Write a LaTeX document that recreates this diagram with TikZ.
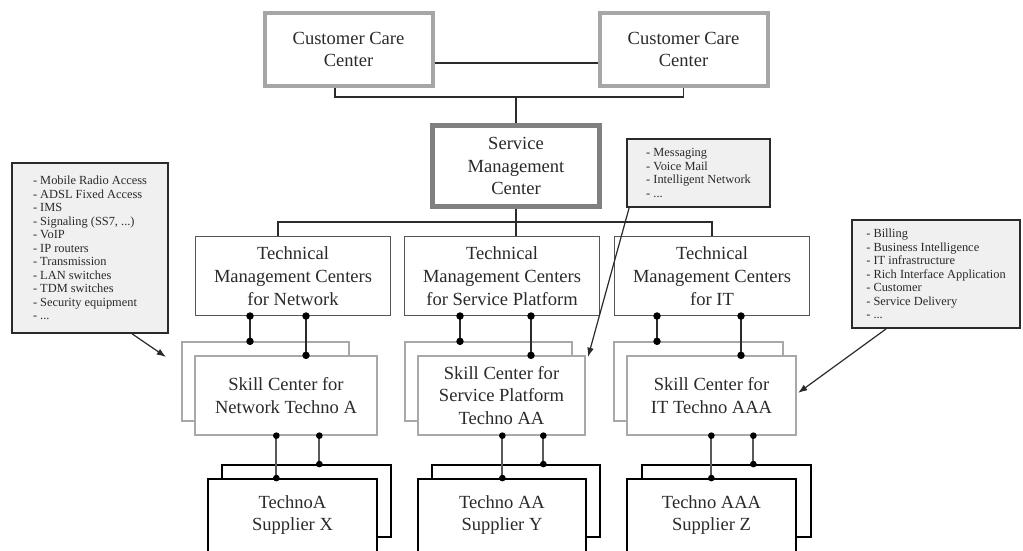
\documentclass[tikz,border=0pt]{standalone}
\usepackage{fontspec}
\setmainfont{Liberation Serif}
\usetikzlibrary{arrows.meta,calc}

\definecolor{ink}{HTML}{2A2A2A}
\definecolor{careline}{HTML}{A6A6A6}
\definecolor{smline}{HTML}{808080}
\definecolor{tmline}{HTML}{555555}
\definecolor{skline}{HTML}{A8A8A8}
\definecolor{notefill}{HTML}{F0F0F0}
\definecolor{busline}{HTML}{2B2B2B}
\definecolor{subline}{HTML}{595959}

\newcommand\mainfs{\fontsize{13.9pt}{17pt}\selectfont}
\newcommand\notefs{\fontsize{9.3pt}{10.1pt}\selectfont}

\begin{document}
\begin{tikzpicture}[x=0.75pt,y=-0.75pt,
  every node/.style={text=ink},
  boxbase/.style={fill=white, align=center, font=\mainfs, inner sep=0pt},
  carebox/.style={boxbase, draw=careline, line width=3pt,
    minimum width=126pt, minimum height=54.75pt},
  smbox/.style={boxbase, draw=smline, line width=3.75pt,
    minimum width=125.25pt, minimum height=60.75pt},
  tmbox/.style={boxbase, draw=tmline, line width=1pt,
    minimum width=146pt, minimum height=59pt},
  skillback/.style={boxbase, draw=skline, line width=1pt, minimum height=59.25pt},
  skillfront/.style={boxbase, draw=skline, line width=1pt, minimum height=59.25pt},
  supback/.style={boxbase, draw=black, line width=1.4pt, minimum height=54pt},
  supfront/.style={boxbase, draw=black, line width=1.4pt, minimum height=66pt},
  suptext/.style={align=center, font=\mainfs, text=ink, yshift=6pt},
  note/.style={draw=ink, line width=1.3pt, fill=notefill, align=left,
    font=\notefs, inner sep=0pt},
  bus/.style={draw=busline, line width=1.4pt},
  link/.style={draw=busline, line width=1.6pt},
  sublink/.style={draw=subline, line width=1.4pt},
  pointer/.style={draw=ink, line width=0.9pt, -{Latex[length=7pt,width=5pt]}}
]
\useasboundingbox (0,0) rectangle (1023,550);
\clip (0,0) rectangle (1023,550);
\fill[white] (0,0) rectangle (1023,550);

% top level
\node[carebox] (ccc1) at (348.5,49.5) {Customer Care\\Center};
\node[carebox] (ccc2) at (683.5,49.5) {Customer Care\\Center};
\node[smbox] (smc) at (516,166) {Service\\Management\\Center};

% technical management centers
\node[tmbox] (tmc1) at (293,276) {Technical\\Management Centers\\for Network};
\node[tmbox] (tmc2) at (502,276) {Technical\\Management Centers\\for Service Platform};
\node[tmbox] (tmc3) at (712,276) {Technical\\Management Centers\\for IT};

% skill centers (stacked)
\node[skillback, minimum width=125.25pt] (skb1) at (265.5,381.5) {};
\node[skillback, minimum width=125.25pt] (skb2) at (488.5,381.5) {};
\node[skillback, minimum width=126.75pt] (skb3) at (698.5,381.5) {};
\node[skillfront, minimum width=136.5pt] (skf1) at (286,395.5) {Skill Center for\\Network Techno A};
\node[skillfront, minimum width=125.25pt] (skf2) at (501.5,395.5) {Skill Center for\\Service Platform\\Techno AA};
\node[skillfront, minimum width=126.75pt] (skf3) at (711.5,395.5) {Skill Center for\\IT Techno AAA};

% suppliers (stacked, front sheets run past the lower edge)
\node[supback, minimum width=126.75pt] (spb1) at (306.5,501) {};
\node[supback, minimum width=126pt] (spb2) at (516,501) {};
\node[supback, minimum width=126.75pt] (spb3) at (726.5,501) {};
\node[supfront, minimum width=126.75pt,
  label={[suptext]center:TechnoA\\Supplier X}] (spf1) at (292.5,523) {};
\node[supfront, minimum width=126pt,
  label={[suptext]center:Techno AA\\Supplier Y}] (spf2) at (502,523) {};
\node[supfront, minimum width=126.75pt,
  label={[suptext]center:Techno AAA\\Supplier Z}] (spf3) at (711.5,523) {};

% callouts
\node[note, minimum width=117pt, minimum height=127.5pt] (n1) at (90,248)
  {- Mobile Radio Access\\- ADSL Fixed Access\\- IMS\\- Signaling (SS7, ...)\\- VoIP\\- IP routers\\- Transmission\\- LAN switches\\- TDM switches\\- Security equipment\\- ...};
\node[note, minimum width=107.25pt, minimum height=51pt] (n2) at (698.5,173)
  {- Messaging\\- Voice Mail\\- Intelligent Network\\- ...};
\node[note, minimum width=126pt, minimum height=81pt] (n3) at (936,274)
  {- Billing\\- Business Intelligence\\- IT infrastructure\\- Rich Interface Application\\- Customer\\- Service Delivery\\- ...};

% buses
\draw[bus] (ccc1.east) ++(0,13.5) coordinate (h1) -- (h1 -| ccc2.west);
\coordinate (j1) at (516,97);
\draw[bus] ($(ccc1.south)+(-13.5,0)$) |- (j1) -| (ccc2.south);
\draw[bus] (j1) -- (smc.north);
\coordinate (j2) at (516,222);
\draw[bus] ($(tmc1.north)+(-15,0)$) |- (j2) -| (tmc3.north);
\draw[bus] (smc.south) -- (tmc2.north -| smc.south);

% management to skill links
\foreach \t/\b/\dx in {tmc1/skb1/55, tmc1/skf1/111, tmc2/skb2/56,
                       tmc2/skf2/127, tmc3/skb3/43, tmc3/skf3/127} {
  \draw[link] ($(\t.south west)+(\dx,0)$) coordinate (p) -- (p |- \b.north) coordinate (q);
  \fill[black] (p) circle[radius=2.8pt] (q) circle[radius=2.8pt];
}

% skill to supplier links
\foreach \t/\b/\dx in {skf1/spf1/82, skf1/spb1/125, skf2/spf2/85,
                       skf2/spb2/126, skf3/spf3/85, skf3/spb3/127} {
  \draw[sublink] ($(\t.south west)+(\dx,0)$) coordinate (p) -- (p |- \b.north) coordinate (q);
  \fill[black] (p) circle[radius=2.5pt] (q) circle[radius=2.5pt];
}

% callout pointers
\coordinate (t1) at (166,357);
\coordinate (t2) at (588,357);
\coordinate (t3) at (798,393);
\draw[pointer] ($(n1.south west)+(121,0)$) -- (t1);
\draw[pointer] ($(n2.south west)+(3,0)$) -- (t2);
\draw[pointer] ($(n3.south west)+(35,0)$) -- (t3);
\end{tikzpicture}
\end{document}
